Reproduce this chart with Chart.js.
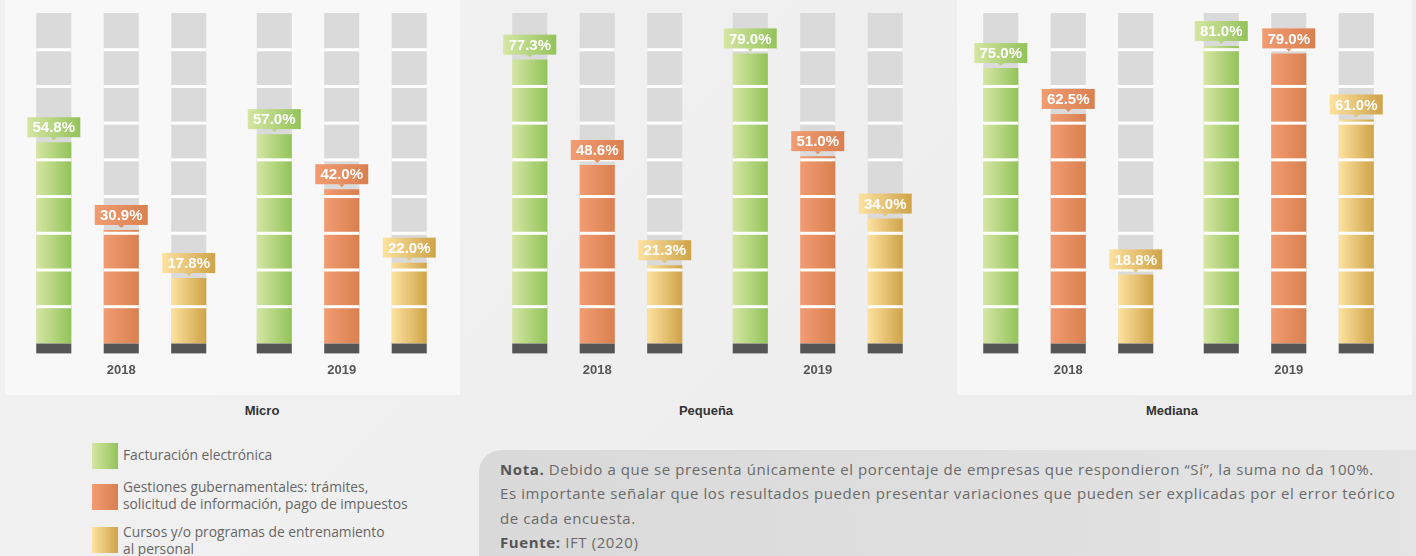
<!DOCTYPE html>
<html>
<head>
<meta charset="utf-8">
<script src="https://cdn.jsdelivr.net/npm/chart.js@4"></script>
<style>
  body { margin: 0; background: #efefef; font-family: "Open Sans", sans-serif; }
  #wrap { position: relative; width: 1416px; height: 556px; overflow: hidden;
          background: linear-gradient(135deg, #f2f2f2, #ececec); }
  .panel { position: absolute; top: 0; height: 395px; }
  .box { position: absolute; top: 0; width: 441px; height: 400px; }
  .ptitle { position: absolute; top: 403px; font: bold 13px "Liberation Sans", sans-serif; color: #333;
            transform: translateX(-50%); white-space: nowrap; }
  .leg { position: absolute; left: 92px; font-size: 13.8px; line-height: 17px; color: #666; }
  .leg span.sw { position: absolute; left: 0; width: 26px; height: 26px; }
  .leg div.tx { position: absolute; left: 31px; white-space: nowrap; }
  #note { position: absolute; left: 479px; top: 450px; width: 980px; height: 140px; border-radius: 22px;
          background: linear-gradient(90deg, #d9d9d9, #e4e4e4); }
  #note p { margin: 0; position: absolute; left: 21px; top: 7px; white-space: nowrap;
            font-size: 15px; line-height: 24.3px; color: #6a6a6a; letter-spacing: 0.6px; }
  #note b { color: #555; }
</style>
</head>
<body>
<div id="wrap">
  <div class="panel" style="left:5px;width:455px;background:#f8f8f8"></div>
  <div class="panel" style="left:957px;width:455px;background:#f7f7f7"></div>

  <div class="box" style="left:11px"><canvas id="c0"></canvas></div>
  <div class="box" style="left:487px"><canvas id="c1"></canvas></div>
  <div class="box" style="left:958px"><canvas id="c2"></canvas></div>

  <div class="ptitle" style="left:262px">Micro</div>
  <div class="ptitle" style="left:706px">Pequeña</div>
  <div class="ptitle" style="left:1172px">Mediana</div>

  <div id="legend"></div>

  <div id="note"><p><b>Nota.</b> Debido a que se presenta únicamente el porcentaje de empresas que respondieron “Sí”, la suma no da 100%.<br>Es importante señalar que los resultados pueden presentar variaciones que pueden ser explicadas por el error teórico<br>de cada encuesta.<br><b>Fuente:</b> IFT (2020)</p></div>
</div>

<script>
// categories
var years = ['2018', '2019'];
var panelNames = ['Micro', 'Pequeña', 'Mediana'];
var seriesNames = [
  'Facturación electrónica',
  'Gestiones gubernamentales: trámites,\nsolicitud de información, pago de impuestos',
  'Cursos y/o programas de entrenamiento\nal personal'
];

// values (%), one array per series and company size
var microFacturacion = [54.8, 57.0];
var microGestiones = [30.9, 42.0];
var microCursos = [17.8, 22.0];
var pequenaFacturacion = [77.3, 79.0];
var pequenaGestiones = [48.6, 51.0];
var pequenaCursos = [21.3, 34.0];
var medianaFacturacion = [75.0, 81.0];
var medianaGestiones = [62.5, 79.0];
var medianaCursos = [18.8, 61.0];

// value axis: 9 segments of 10 points each
var yMax = 90;
var yStep = 10;

var colors = [
  ['#d5e6a3', '#93c35a'],
  ['#f29c73', '#d9804f'],
  ['#fde2a0', '#cfa348']
];
var CAT_PCT = 0.918;
var BAR_PCT = 0.52;

function barGradient(c) {
  var chart = c.chart;
  var xs = chart.scales.x;
  var pair = colors[c.datasetIndex];
  if (!xs || !xs.width) return pair[1];
  var catW = xs.width / years.length;
  var slot = catW * CAT_PCT / 3;
  var cx = xs.getPixelForValue(c.dataIndex) + (c.datasetIndex - 1) * slot;
  var w = slot * BAR_PCT;
  var g = chart.ctx.createLinearGradient(cx - w / 2, 0, cx + w / 2, 0);
  g.addColorStop(0, pair[0]);
  g.addColorStop(1, pair[1]);
  return g;
}

var barDecor = {
  id: 'barDecor',
  beforeDatasetsDraw: function (chart) {
    var ctx = chart.ctx, a = chart.chartArea;
    ctx.save();
    chart.data.datasets.forEach(function (ds, i) {
      chart.getDatasetMeta(i).data.forEach(function (el) {
        var w = el.width;
        ctx.fillStyle = '#dadada';
        ctx.fillRect(el.x - w / 2, a.top, w, a.bottom - a.top);
        ctx.fillStyle = '#555555';
        ctx.fillRect(el.x - w / 2, a.bottom, w, 10);
      });
    });
    ctx.restore();
  },
  afterDatasetsDraw: function (chart) {
    var ctx = chart.ctx, ys = chart.scales.y;
    ctx.save();
    // white gaps between segments
    chart.data.datasets.forEach(function (ds, i) {
      chart.getDatasetMeta(i).data.forEach(function (el) {
        for (var v = yStep; v < yMax; v += yStep) {
          var y = ys.getPixelForValue(v);
          ctx.fillStyle = '#ffffff';
          ctx.fillRect(el.x - el.width / 2, y - 1.5, el.width, 3);
        }
      });
    });
    // value callouts
    chart.data.datasets.forEach(function (ds, i) {
      chart.getDatasetMeta(i).data.forEach(function (el, j) {
        var bw = 53, bh = 20;
        var x0 = el.x - bw / 2, y1 = el.y - 5, y0 = y1 - bh;
        var g = ctx.createLinearGradient(x0, 0, x0 + bw, 0);
        g.addColorStop(0, colors[i][0]);
        g.addColorStop(1, colors[i][1]);
        ctx.fillStyle = g;
        ctx.fillRect(x0, y0, bw, bh);
        ctx.beginPath();
        ctx.moveTo(el.x - 3, y1);
        ctx.lineTo(el.x + 3, y1);
        ctx.lineTo(el.x, y1 + 3);
        ctx.closePath();
        ctx.fill();
        ctx.fillStyle = '#ffffff';
        ctx.font = 'bold 15px "Liberation Sans", sans-serif';
        ctx.textAlign = 'center';
        ctx.textBaseline = 'middle';
        ctx.fillText(ds.data[j].toFixed(1) + '%', el.x, y0 + bh / 2 + 1);
      });
    });
    ctx.restore();
  }
};

function makeChart(id, series) {
  new Chart(document.getElementById(id), {
    type: 'bar',
    data: {
      labels: years,
      datasets: series.map(function (vals, i) {
        return {
          label: seriesNames[i],
          data: vals,
          backgroundColor: barGradient,
          borderWidth: 0,
          categoryPercentage: CAT_PCT,
          barPercentage: BAR_PCT
        };
      })
    },
    options: {
      responsive: true,
      maintainAspectRatio: false,
      animation: false,
      layout: { padding: { top: 13, bottom: 3, left: 0, right: 0 } },
      plugins: { legend: { display: false }, tooltip: { enabled: false }, title: { display: false } },
      scales: {
        y: { display: false, min: 0, max: yMax, ticks: { stepSize: yStep } },
        x: {
          grid: { display: false, drawTicks: false },
          border: { display: false },
          ticks: { color: '#555', padding: 19, font: { family: 'Liberation Sans', size: 13, weight: 'bold' } }
        }
      }
    },
    plugins: [barDecor]
  });
}

makeChart('c0', [microFacturacion, microGestiones, microCursos]);
makeChart('c1', [pequenaFacturacion, pequenaGestiones, pequenaCursos]);
makeChart('c2', [medianaFacturacion, medianaGestiones, medianaCursos]);

// legend
var legTops = [443, 484, 527];
var legTextTops = [446, 478, 523];
var legHtml = '';
seriesNames.forEach(function (name, i) {
  legHtml += '<div class="leg" style="top:' + legTops[i] + 'px">' +
    '<span class="sw" style="background:linear-gradient(90deg,' + colors[i][0] + ',' + colors[i][1] + ')"></span>' +
    '<div class="tx" style="top:' + (legTextTops[i] - legTops[i]) + 'px">' + name.replace('\n', '<br>') + '</div></div>';
});
document.getElementById('legend').innerHTML = legHtml;
</script>
</body>
</html>
